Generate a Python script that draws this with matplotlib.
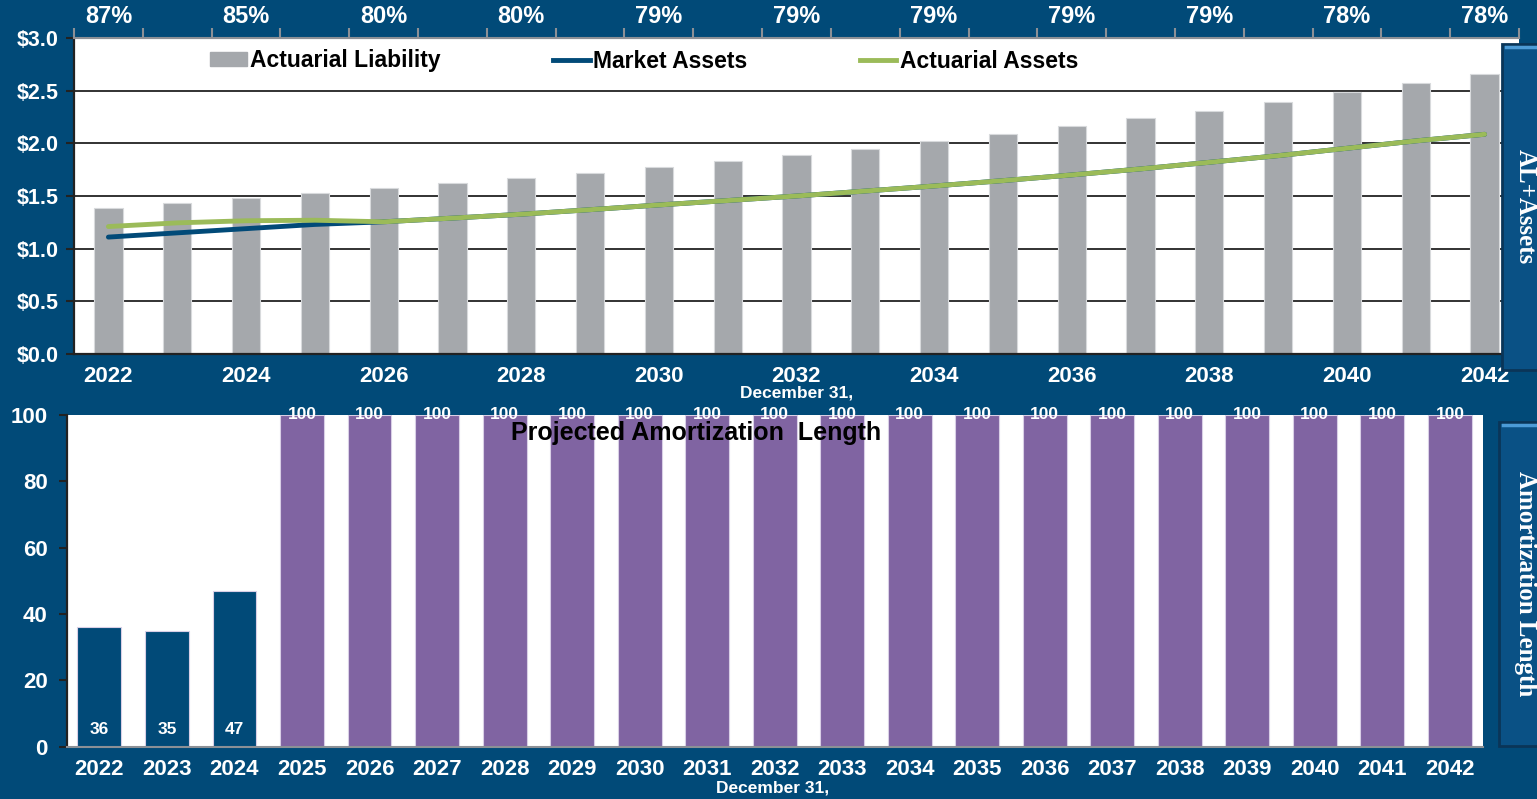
# Import libs
import matplotlib
matplotlib.use('Agg')
import matplotlib.pyplot as plt
from matplotlib.patches import Rectangle
from matplotlib.lines import Line2D

# Chart data
years = list(range(2022, 2043))
liability = [1.39, 1.43, 1.48, 1.53, 1.58, 1.62, 1.67, 1.72, 1.78, 1.83, 1.89,
             1.95, 2.02, 2.09, 2.16, 2.24, 2.31, 2.39, 2.49, 2.57, 2.66]
market_assets = [1.11, 1.15, 1.19, 1.23, 1.255, 1.29, 1.327, 1.37, 1.415, 1.457, 1.50,
                 1.547, 1.595, 1.646, 1.70, 1.757, 1.82, 1.883, 1.953, 2.023, 2.086]
actuarial_assets = [1.21, 1.245, 1.265, 1.27, 1.255, 1.29, 1.327, 1.37, 1.415, 1.457, 1.50,
                    1.547, 1.595, 1.646, 1.70, 1.757, 1.82, 1.883, 1.953, 2.023, 2.086]
funded_pct = ['87%', '85%', '80%', '80%', '79%', '79%', '79%', '79%', '79%', '78%', '78%']
amort_length = [36, 35, 47] + [100] * 18
amort_fixed = 3  # first bars are dark blue, rest purple

# Colors
BG = '#014A78'
GRAY = '#A5A8AC'
GREEN = '#9BBB59'
PURPLE = '#8064A2'

plt.rcParams['font.family'] = ['Liberation Sans', 'DejaVu Sans']
plt.rcParams['font.weight'] = 'bold'

fig = plt.figure(figsize=(15.37, 7.99), dpi=100, facecolor=BG)
W, H = 1537.0, 799.0


def fx(px):
    return px / W


def fy(py):
    return 1 - py / H


x = list(range(len(years)))

# ---------------- top chart: AL + assets ----------------
ax1 = fig.add_axes([fx(74), fy(354), fx(1519) - fx(74), fy(38) - fy(354)])
ax1.set_facecolor('white')
ax1.bar(x, liability, width=0.41, color=GRAY, edgecolor='#D8DADC', linewidth=0.8,
        zorder=2, label='Actuarial Liability')
ax1.plot(x, market_assets, color=BG, lw=3.5, solid_capstyle='round', zorder=3,
         label='Market Assets')
ax1.plot(x, actuarial_assets, color=GREEN, lw=3.5, solid_capstyle='round', zorder=4,
         label='Actuarial Assets')
ax1.set_xlim(-0.5, 20.5)
ax1.set_ylim(0, 3.0)
ax1.set_yticks([0, 0.5, 1.0, 1.5, 2.0, 2.5, 3.0])
ax1.set_yticklabels(['$%.1f' % v for v in ax1.get_yticks()])
ax1.yaxis.grid(True, color='#222222', lw=1.3, zorder=1)
ax1.set_axisbelow(True)
ax1.set_xticks(x[::2])
ax1.set_xticklabels([str(y) for y in years[::2]])
ax1.tick_params(axis='x', length=0, pad=9, labelsize=16, labelcolor='white')
ax1.tick_params(axis='y', length=6, width=1.5, color='#222222', pad=5,
                labelsize=15.5, labelcolor='white')
for s in ['left', 'bottom']:
    ax1.spines[s].set_color('#222222')
    ax1.spines[s].set_linewidth(1.6)
ax1.spines['right'].set_visible(False)
ax1.spines['top'].set_color('#8C9096')
ax1.spines['top'].set_linewidth(1.5)

# top axis: funded ratio labels
ax1t = ax1.twiny()
ax1t.set_xlim(ax1.get_xlim())
ax1t.set_xticks([i - 0.5 for i in range(len(years) + 1)])
ax1t.set_xticklabels([])
ax1t.set_xticks(x[::2], minor=True)
ax1t.set_xticklabels(funded_pct, minor=True)
ax1t.tick_params(axis='x', which='major', length=7, width=1.5, color='#8C9096')
ax1t.tick_params(axis='x', which='minor', length=0, pad=7, labelsize=17,
                 labelcolor='white')
for s in ['left', 'bottom', 'right']:
    ax1t.spines[s].set_visible(False)
ax1t.spines['top'].set_color('#8C9096')

handles = [Rectangle((0, 0), 1, 1, color=GRAY),
           Line2D([], [], color=BG, lw=3.5),
           Line2D([], [], color=GREEN, lw=3.5)]
ax1.legend(handles, ['Actuarial Liability', 'Market Assets', 'Actuarial Assets'],
           ncol=3, frameon=False, loc='center left',
           bbox_to_anchor=((210 - 74) / 1445.0, (354 - 61) / 316.0),
           borderaxespad=0, borderpad=0, handlelength=1.6, handleheight=0.55,
           handletextpad=0.15, columnspacing=4.9,
           prop={'size': 16.5, 'weight': 'bold'})

fig.text(fx(797), fy(393), 'December 31,', color='white', fontsize=12.5,
         ha='center', va='center', fontweight='bold')

# ---------------- bottom chart: amortization length ----------------
ax2 = fig.add_axes([fx(67), fy(746.7), fx(1483) - fx(67), fy(415) - fy(746.7)])
ax2.set_facecolor('white')
colors = [BG] * amort_fixed + [PURPLE] * (len(years) - amort_fixed)
ax2.bar(x, amort_length, width=0.65, color=colors, edgecolor='#D9CFE6',
        linewidth=0.8, zorder=2)
for i, v in enumerate(amort_length):
    if i < amort_fixed:
        ax2.text(i, 5.3, '%d' % v, color='white', fontsize=12.5, ha='center',
                 va='center', fontweight='bold', zorder=5)
    else:
        ax2.text(i, 100, '%d' % v, color='white', fontsize=12.5, ha='center',
                 va='center', fontweight='bold', zorder=5, clip_on=False)
ax2.set_xlim(-0.48, 20.49)
ax2.set_ylim(0, 100)
ax2.set_yticks([0, 20, 40, 60, 80, 100])
ax2.set_xticks(x)
ax2.set_xticklabels([str(y) for y in years])
ax2.tick_params(axis='x', length=0, pad=9, labelsize=16, labelcolor='white')
ax2.tick_params(axis='y', length=6, width=1.5, color='#222222', pad=8,
                labelsize=16, labelcolor='white')
ax2.spines['left'].set_color('#222222')
ax2.spines['left'].set_linewidth(1.6)
ax2.spines['bottom'].set_color('#8C9096')
ax2.spines['bottom'].set_linewidth(1.5)
ax2.spines['top'].set_visible(False)
ax2.spines['right'].set_visible(False)

fig.text(fx(696), fy(433), 'Projected Amortization  Length',
         fontsize=18, color='black', ha='center', va='center',
         fontweight='bold', zorder=6)
fig.text(fx(773), fy(788), 'December 31,', color='white', fontsize=12.5,
         ha='center', va='center', fontweight='bold')


# ---------------- side labels ----------------
def side_box(x0, y0, x1, y1, label):
    box = Rectangle((fx(x0), fy(y1)), fx(x1) - fx(x0), fy(y0) - fy(y1),
                    transform=fig.transFigure, facecolor='#0A5185',
                    edgecolor='#0A3558', linewidth=2.0, zorder=10)
    fig.add_artist(box)
    fig.add_artist(Line2D([fx(x0 + 4), fx(x1)], [fy(y0 + 3), fy(y0 + 3)],
                          transform=fig.transFigure, color='#4C9BD6', lw=2.5,
                          zorder=11))
    fig.text(fx(1525), fy((y0 + y1) / 2.0), label, rotation=270,
             color='white', fontsize=18, ha='center', va='center',
             family=['Liberation Serif', 'DejaVu Serif'], fontweight='bold',
             zorder=12)


side_box(1502, 44, 1545, 370, 'AL+Assets')
side_box(1499, 422, 1545, 746, 'Amortization Length')

fig.savefig('out.png', dpi=100, facecolor=BG)
